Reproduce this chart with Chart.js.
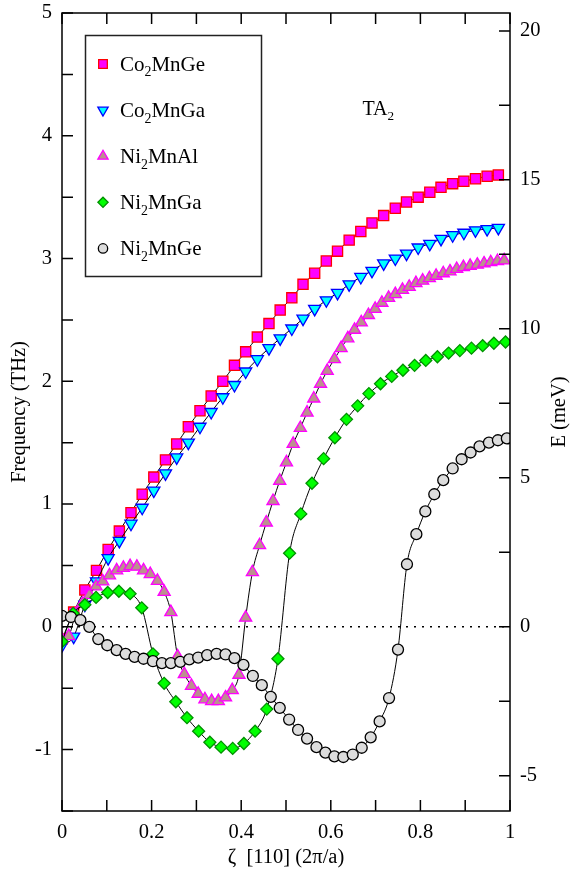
<!DOCTYPE html>
<html>
<head>
<meta charset="utf-8">
<script src="https://cdn.jsdelivr.net/npm/chart.js@4.4.1/dist/chart.umd.min.js"></script>
<style>
  html, body { margin: 0; padding: 0; background: #fff; }
  #wrap { width: 570px; height: 878px; }
</style>
</head>
<body>
<div id="wrap"><canvas id="dispersion" width="570" height="878"></canvas></div>
<script>
// compound names, in legend order
const names = ["Co₂MnGe", "Co₂MnGa", "Ni₂MnAl", "Ni₂MnGa", "Ni₂MnGe"];

// zeta grid shared by the two Co compounds
const zetaCo = [0, 0.026, 0.051, 0.077, 0.103, 0.128, 0.154, 0.179, 0.205, 0.231,
  0.256, 0.282, 0.308, 0.333, 0.359, 0.385, 0.410, 0.436, 0.462, 0.487,
  0.513, 0.538, 0.564, 0.590, 0.615, 0.641, 0.667, 0.692, 0.718, 0.744,
  0.769, 0.795, 0.821, 0.846, 0.872, 0.897, 0.923, 0.949, 0.974];
const co2mnge = [-0.10, 0.12, 0.30, 0.46, 0.63, 0.78, 0.93, 1.08, 1.22, 1.36,
  1.49, 1.63, 1.76, 1.88, 2.00, 2.13, 2.24, 2.36, 2.47, 2.58,
  2.68, 2.79, 2.88, 2.98, 3.06, 3.15, 3.22, 3.29, 3.35, 3.41,
  3.46, 3.50, 3.54, 3.58, 3.61, 3.63, 3.65, 3.67, 3.68];
const co2mnga = [-0.15, -0.08, 0.18, 0.37, 0.56, 0.70, 0.84, 0.97, 1.11, 1.25,
  1.38, 1.50, 1.63, 1.75, 1.87, 1.97, 2.08, 2.18, 2.27, 2.35,
  2.43, 2.51, 2.59, 2.66, 2.72, 2.79, 2.85, 2.90, 2.96, 3.00,
  3.04, 3.09, 3.12, 3.16, 3.19, 3.21, 3.23, 3.24, 3.25];

const zetaNiAl = [0, 0.015, 0.030, 0.046, 0.061, 0.076, 0.091, 0.106, 0.122, 0.137,
  0.152, 0.167, 0.182, 0.197, 0.213, 0.228, 0.243, 0.258, 0.273, 0.289,
  0.304, 0.319, 0.334, 0.349, 0.365, 0.380, 0.395, 0.410, 0.425, 0.441,
  0.456, 0.471, 0.486, 0.501, 0.516, 0.532, 0.547, 0.562, 0.577, 0.592,
  0.608, 0.623, 0.638, 0.653, 0.668, 0.684, 0.699, 0.714, 0.729, 0.744,
  0.760, 0.775, 0.790, 0.805, 0.820, 0.835, 0.851, 0.866, 0.881, 0.896,
  0.911, 0.927, 0.942, 0.957, 0.972, 0.987];
const ni2mnal = [-0.10, -0.075, 0.10, 0.19, 0.26, 0.33, 0.37, 0.42, 0.46, 0.48,
  0.495, 0.49, 0.46, 0.43, 0.375, 0.285, 0.12, -0.24, -0.385, -0.48,
  -0.545, -0.59, -0.605, -0.605, -0.575, -0.515, -0.39, 0.075, 0.445, 0.665,
  0.85, 1.025, 1.19, 1.34, 1.49, 1.62, 1.745, 1.86, 1.98, 2.085,
  2.18, 2.27, 2.35, 2.42, 2.48, 2.54, 2.59, 2.64, 2.68, 2.71,
  2.745, 2.77, 2.80, 2.82, 2.84, 2.86, 2.88, 2.895, 2.915, 2.93,
  2.94, 2.95, 2.96, 2.97, 2.98, 2.985];

const zetaNiGa = [0, 0.025, 0.051, 0.076, 0.102, 0.127, 0.152, 0.178, 0.203, 0.228,
  0.254, 0.279, 0.305, 0.330, 0.355, 0.381, 0.406, 0.431, 0.457, 0.482,
  0.508, 0.533, 0.558, 0.584, 0.609, 0.635, 0.660, 0.685, 0.711, 0.736,
  0.761, 0.787, 0.812, 0.838, 0.863, 0.888, 0.914, 0.939, 0.964, 0.990];
const ni2mnga = [-0.12, 0.11, 0.18, 0.24, 0.28, 0.29, 0.27, 0.155, -0.22, -0.46,
  -0.61, -0.74, -0.85, -0.94, -0.98, -0.99, -0.95, -0.85, -0.67, -0.26,
  0.60, 0.92, 1.17, 1.37, 1.54, 1.69, 1.80, 1.90, 1.98, 2.04,
  2.09, 2.13, 2.17, 2.20, 2.23, 2.25, 2.27, 2.29, 2.31, 2.32];

const zetaNiGe = [0, 0.020, 0.041, 0.061, 0.081, 0.101, 0.122, 0.142, 0.162, 0.182,
  0.203, 0.223, 0.243, 0.264, 0.284, 0.304, 0.324, 0.345, 0.365, 0.385,
  0.405, 0.426, 0.446, 0.466, 0.486, 0.507, 0.527, 0.547, 0.568, 0.588,
  0.608, 0.628, 0.649, 0.669, 0.689, 0.709, 0.730, 0.750, 0.770, 0.791,
  0.811, 0.831, 0.851, 0.872, 0.892, 0.912, 0.932, 0.953, 0.973, 0.993];
const ni2mnge = [0.09, 0.08, 0.055, 0.0, -0.10, -0.15, -0.19, -0.22, -0.245, -0.26,
  -0.28, -0.295, -0.295, -0.285, -0.265, -0.25, -0.23, -0.22, -0.225, -0.255,
  -0.31, -0.40, -0.475, -0.57, -0.66, -0.755, -0.84, -0.91, -0.98, -1.025,
  -1.055, -1.06, -1.04, -0.985, -0.90, -0.77, -0.58, -0.185, 0.51, 0.755,
  0.94, 1.08, 1.195, 1.29, 1.365, 1.42, 1.47, 1.50, 1.52, 1.535];

// axis ticks
const zetaTicks = [0, 0.1, 0.2, 0.3, 0.4, 0.5, 0.6, 0.7, 0.8, 0.9, 1];
const freqTicks = [-1.5, -1, -0.5, 0, 0.5, 1, 1.5, 2, 2.5, 3, 3.5, 4, 4.5, 5];
const meVTicks = [-5, -2.5, 0, 2.5, 5, 7.5, 10, 12.5, 15, 17.5, 20];

const freqRange = [-1.5, 5];
const THZ_TO_MEV = 4.12;

const SERIF = "'Liberation Serif', 'Times New Roman', serif";
Chart.defaults.font.family = SERIF;
Chart.defaults.color = '#000';

function pts(xs, ys) {
  return xs.map((x, i) => ({ x: x, y: ys[i] }));
}

const styles = [
  { pointStyle: 'rect', rotation: 0, radius: 7.2, fill: '#ff00ff', stroke: '#ff0000' },
  { pointStyle: 'triangle', rotation: 180, radius: 7, fill: '#00ffff', stroke: '#0000ff' },
  { pointStyle: 'triangle', rotation: 0, radius: 7, fill: '#bc8f8f', stroke: '#ff00ff' },
  { pointStyle: 'rectRot', rotation: 0, radius: 6, fill: '#00ff00', stroke: '#009000' },
  { pointStyle: 'circle', rotation: 0, radius: 5.5, fill: '#dcdcdc', stroke: '#000000' }
];
const series = [
  pts(zetaCo, co2mnge),
  pts(zetaCo, co2mnga),
  pts(zetaNiAl, ni2mnal),
  pts(zetaNiGa, ni2mnga),
  pts(zetaNiGe, ni2mnge)
];

const datasets = series.map((d, i) => ({
  label: names[i],
  data: d,
  order: 5 - i,
  borderColor: '#000',
  borderWidth: 1,
  cubicInterpolationMode: 'monotone',
  pointStyle: styles[i].pointStyle,
  pointRotation: styles[i].rotation,
  pointRadius: styles[i].radius,
  pointBackgroundColor: styles[i].fill,
  pointBorderColor: styles[i].stroke,
  pointBorderWidth: 1.3
}));

datasets.push({
  label: 'zero',
  data: [{ x: 0, y: 0 }, { x: 1, y: 0 }],
  order: 10,
  borderColor: '#000',
  borderWidth: 1.5,
  borderDash: [2, 6],
  pointRadius: 0
});

// draw "Co₂MnGe"-style text with lowered subscript digits
function drawRich(ctx, text, x, y, size) {
  let cx = x;
  const runs = [];
  for (const ch of text) {
    const sub = ch === '₂';
    const c = sub ? '2' : ch;
    if (runs.length && runs[runs.length - 1].sub === sub) runs[runs.length - 1].t += c;
    else runs.push({ t: c, sub: sub });
  }
  ctx.textAlign = 'left';
  ctx.textBaseline = 'alphabetic';
  runs.forEach(r => {
    const s = r.sub ? size * 0.66 : size;
    ctx.font = s + 'px ' + SERIF;
    ctx.fillText(r.t, cx, r.sub ? y + size * 0.26 : y);
    cx += ctx.measureText(r.t).width;
  });
}

function fixedTicks(values) {
  return s => { s.ticks = values.map(v => ({ value: v })); };
}
function noPad(s) {
  s.paddingTop = 0; s.paddingBottom = 0; s.paddingLeft = 0; s.paddingRight = 0;
}

const TICK = 11;
const framePlugin = {
  id: 'frame',
  afterDatasetsDraw(chart) {
    const { ctx, chartArea: a, scales } = chart;
    ctx.save();
    ctx.strokeStyle = '#000';
    ctx.lineWidth = 1.5;
    ctx.strokeRect(a.left, a.top, a.right - a.left, a.bottom - a.top);
    ctx.beginPath();
    scales.x.ticks.forEach(t => {
      const px = scales.x.getPixelForValue(t.value);
      ctx.moveTo(px, a.bottom); ctx.lineTo(px, a.bottom - TICK);
      ctx.moveTo(px, a.top); ctx.lineTo(px, a.top + TICK);
    });
    scales.y.ticks.forEach(t => {
      const py = scales.y.getPixelForValue(t.value);
      ctx.moveTo(a.left, py); ctx.lineTo(a.left + TICK, py);
    });
    scales.y2.ticks.forEach(t => {
      const py = scales.y2.getPixelForValue(t.value);
      ctx.moveTo(a.right, py); ctx.lineTo(a.right - TICK, py);
    });
    ctx.stroke();

    // legend box
    const bx = a.left + 23.5, by = a.top + 22.5, bw = 176, bh = 241;
    ctx.lineWidth = 1.5;
    ctx.strokeStyle = '#222';
    ctx.strokeRect(bx, by, bw, bh);
    names.forEach((n, i) => {
      const cy = by + 28.5 + i * 46.1;
      const st = styles[i];
      ctx.fillStyle = st.fill;
      ctx.strokeStyle = st.stroke;
      ctx.lineWidth = 1.3;
      Chart.helpers.drawPoint(ctx, { pointStyle: st.pointStyle, rotation: st.rotation, radius: st.radius * 0.85, borderWidth: 1.3 }, bx + 17.5, cy);
      ctx.fillStyle = '#000';
      drawRich(ctx, n, bx + 34.5, cy + 7, 21);
    });

    // mode label
    ctx.fillStyle = '#000';
    drawRich(ctx, 'TA₂', a.left + 300.5, a.top + 102, 20);

    // right axis title, reading upward
    ctx.translate(560, (a.top + a.bottom) / 2);
    ctx.rotate(-Math.PI / 2);
    ctx.font = '20.5px ' + SERIF;
    ctx.textAlign = 'center';
    ctx.textBaseline = 'middle';
    ctx.fillText('E (meV)', 0, 0);
    ctx.restore();
  }
};

new Chart(document.getElementById('dispersion'), {
  type: 'line',
  data: { datasets: datasets },
  plugins: [framePlugin],
  options: {
    responsive: false,
    animation: false,
    layout: { padding: { top: 13, left: 0, right: 0, bottom: 0 } },
    plugins: { legend: { display: false }, tooltip: { enabled: false } },
    scales: {
      x: {
        type: 'linear',
        min: 0,
        max: 1,
        grid: { display: false, drawTicks: false },
        border: { display: false },
        afterBuildTicks: fixedTicks(zetaTicks),
        ticks: {
          autoSkip: false,
          maxRotation: 0,
          padding: 9,
          font: { size: 20.5 },
          callback: v => {
            const t = Math.round(v * 10);
            return t % 2 === 0 ? String(t / 10) : '';
          }
        },
        title: {
          display: true,
          text: 'ζ  [110] (2π/a)',
          font: { size: 20.5 },
          padding: { top: 0, bottom: 8 }
        },
        afterFit: s => { s.height = 67; noPad(s); }
      },
      y: {
        position: 'left',
        min: freqRange[0],
        max: freqRange[1],
        grid: { display: false, drawTicks: false },
        border: { display: false },
        afterBuildTicks: fixedTicks(freqTicks),
        ticks: {
          autoSkip: false,
          padding: 10,
          font: { size: 20.5 },
          callback: v => Number.isInteger(v) ? String(v) : ''
        },
        title: {
          display: true,
          text: 'Frequency (THz)',
          font: { size: 20.5 },
          padding: { top: 7, bottom: 0 }
        },
        afterFit: s => { s.width = 62; noPad(s); }
      },
      y2: {
        position: 'right',
        min: freqRange[0] * THZ_TO_MEV,
        max: freqRange[1] * THZ_TO_MEV,
        grid: { display: false, drawTicks: false },
        border: { display: false },
        afterBuildTicks: fixedTicks(meVTicks),
        ticks: {
          autoSkip: false,
          padding: 10,
          font: { size: 20.5 },
          callback: v => Number.isInteger(v) && v % 5 === 0 ? String(v) : ''
        },
        afterFit: s => { s.width = 60; noPad(s); }
      }
    }
  }
});
</script>
</body>
</html>
